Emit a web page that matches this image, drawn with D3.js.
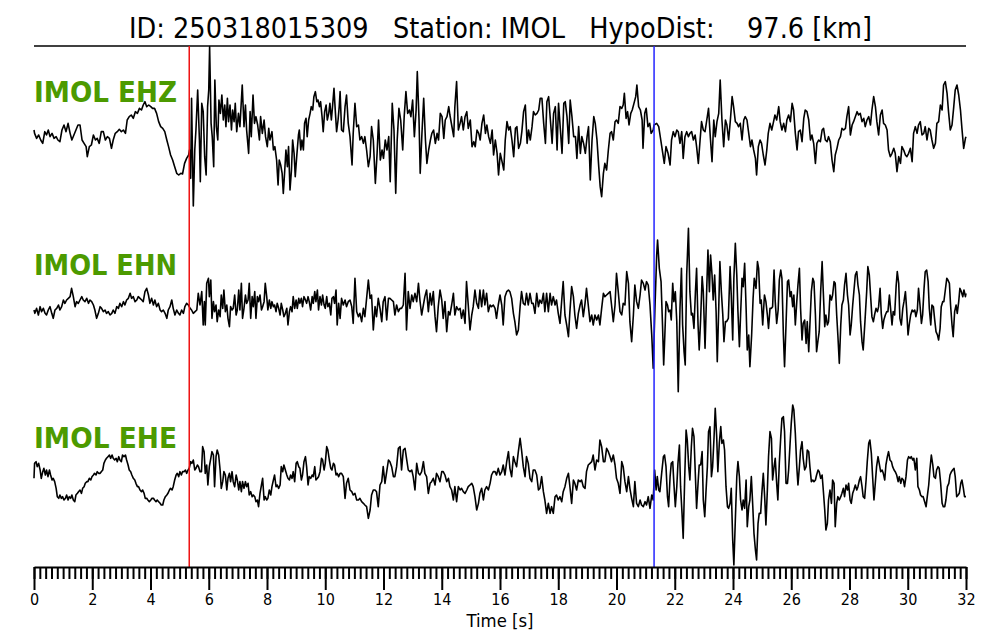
<!DOCTYPE html>
<html>
<head>
<meta charset="utf-8">
<script src="https://cdn.jsdelivr.net/npm/d3@7"></script>
<style>
  html, body { margin: 0; padding: 0; background: #ffffff; }
  svg { display: block; }
</style>
</head>
<body>
<svg id="chart" width="1000" height="640"></svg>
<script>
// ---------------- DATA ----------------
const titleText = "ID: 250318015309   Station: IMOL   HypoDist:    97.6 [km]";
const channels = ["IMOL EHZ", "IMOL EHN", "IMOL EHE"];
const pPick = 5.33;   // s (red)
const sPick = 21.29;  // s (blue)
const majorTicks = [0, 2, 4, 6, 8, 10, 12, 14, 16, 18, 20, 22, 24, 26, 28, 30, 32];
const xLabel = "Time [s]";

// [time (s), amplitude (arb.)]
const ehz = [
[0,0],[0.02,-10],[0.09,-25],[0.16,-15],[0.23,-30],[0.30,-40],[0.37,-5],[0.43,-15],[0.49,0],[0.55,-20],[0.62,-10],[0.69,-25],[0.76,-20],[0.82,-30],[0.89,-35],[0.96,0],[1.03,15],[1.10,-5],[1.17,20],[1.24,-10],[1.30,-30],[1.37,-15],[1.44,0],[1.51,15],[1.58,15],[1.65,-30],[1.72,-40],[1.79,-50],[1.83,-80],[1.90,-50],[1.97,-45],[2.04,-15],[2.11,-30],[2.17,-25],[2.24,-40],[2.31,-5],[2.38,-5],[2.45,-30],[2.52,-20],[2.59,-25],[2.66,-55],[2.72,-30],[2.79,-10],[2.86,-5],[2.93,2],[3.00,-5],[3.07,0],[3.14,-10],[3.20,30],[3.27,40],[3.34,45],[3.41,35],[3.48,55],[3.55,50],[3.62,65],[3.69,60],[3.75,75],[3.81,85],[3.87,70],[3.94,75],[4.01,70],[4.07,65],[4.14,65],[4.21,50],[4.28,25],[4.35,10],[4.42,5],[4.49,-5],[4.56,-30],[4.62,-50],[4.69,-75],[4.76,-90],[4.83,-110],[4.90,-130],[4.97,-135],[5.04,-130],[5.10,-132],[5.17,-100],[5.24,-85],[5.31,-75],
[5.34,-60],[5.38,-145],[5.41,95],[5.47,-228],[5.52,-60],[5.56,0],[5.62,120],[5.68,-30],[5.71,-155],[5.76,80],[5.81,55],[5.86,-80],[5.91,-135],[5.96,70],[6.00,120],[6.03,250],[6.08,20],[6.12,-20],[6.17,-110],[6.21,150],[6.26,10],[6.31,-30],[6.35,90],[6.40,50],[6.45,105],[6.50,30],[6.55,75],[6.59,10],[6.64,95],[6.68,25],[6.73,75],[6.78,0],[6.82,60],[6.87,25],[6.91,80],[6.96,-5],[7.02,50],[7.07,10],[7.15,135],[7.21,10],[7.26,75],[7.30,0],[7.37,-70],[7.42,55],[7.46,-20],[7.52,105],[7.57,20],[7.62,40],[7.68,15],[7.74,-30],[7.78,40],[7.84,-10],[7.90,30],[7.95,-20],[8.01,-50],[8.06,5],[8.10,-30],[8.17,-5],[8.22,-60],[8.27,-50],[8.33,-90],[8.38,-165],[8.42,-90],[8.47,-105],[8.52,-130],[8.56,-190],[8.61,-120],[8.65,-60],[8.70,-110],[8.74,-50],[8.79,-180],[8.84,-120],[8.88,-30],[8.93,-70],[8.97,-140],[9.02,-80],[9.08,-15],[9.11,0],[9.16,-60],[9.20,-30],[9.25,-60],[9.29,20],[9.34,35],[9.38,-20],[9.43,30],[9.48,50],[9.52,70],[9.57,60],[9.61,100],[9.66,115],[9.71,85],[9.75,90],[9.80,70],[9.84,85],[9.89,40],[9.93,-5],[9.98,55],[10.03,75],[10.07,30],[10.12,50],[10.16,80],[10.21,30],[10.25,70],[10.30,125],[10.35,50],[10.39,-5],[10.44,30],[10.48,70],
[10.51,115],[10.56,0],[10.62,-5],[10.68,70],[10.73,105],[10.79,20],[10.85,-20],[10.92,-105],[10.96,-10],[11.02,80],[11.08,10],[11.14,15],[11.19,-30],[11.25,-20],[11.31,-40],[11.36,-20],[11.42,-60],[11.48,-110],[11.54,-80],[11.59,10],[11.65,-30],[11.72,-160],[11.78,-70],[11.83,30],[11.89,-90],[11.95,-60],[12.00,-85],[12.06,-30],[12.12,-60],[12.18,-20],[12.23,-155],[12.30,80],[12.36,0],[12.42,-190],[12.47,-30],[12.53,65],[12.59,30],[12.66,-60],[12.71,40],[12.77,115],[12.83,50],[12.89,60],[12.94,40],[13.00,90],[13.06,-20],[13.12,60],[13.16,175],[13.22,30],[13.26,-130],[13.32,-10],[13.38,95],[13.44,-30],[13.49,-100],[13.55,-60],[13.61,-30],[13.66,-10],[13.72,0],[13.78,-40],[13.84,-10],[13.89,-30],[13.95,50],[14.01,40],[14.07,-25],[14.12,30],[14.18,40],[14.24,70],[14.28,45],[14.34,15],[14.41,-20],[14.45,70],[14.51,145],[14.57,0],[14.63,20],[14.68,40],[14.74,0],[14.80,40],[14.86,55],[14.91,5],[14.98,30],[15.04,-50],[15.10,-35],[15.15,-50],[15.21,0],[15.27,-10],[15.32,-30],[15.38,20],[15.44,45],[15.50,-10],[15.55,15],[15.61,-20],[15.67,-40],[15.73,0],[15.78,-75],[15.84,-30],[15.90,-70],[15.95,-135],[16.01,-70],[16.07,-95],[16.13,-120],[16.18,-30],[16.24,25],[16.30,0],[16.35,10],[16.41,-30],[16.47,-80],[16.53,5],[16.58,10],[16.64,-55],[16.70,-40],[16.75,-5],[16.81,55],[16.87,75],[16.93,-40],[16.98,0],[17.04,-30],[17.10,10],[17.15,55],[17.21,45],[17.27,50],[17.33,60],[17.38,95],[17.44,95],[17.50,20],[17.56,-40],[17.61,85],[17.67,100],[17.73,30],[17.79,-40],[17.84,50],[17.90,70],[17.96,-60],[18.01,80],[18.07,5],[18.13,-70],[18.19,80],[18.24,85],[18.30,40],[18.36,-40],[18.41,90],[18.47,40],[18.53,-20],[18.59,-20],[18.64,-85],[18.70,10],[18.76,-70],[18.81,-20],[18.87,-40],[18.93,-70],[18.99,-20],[19.04,10],[19.10,-150],[19.16,-30],[19.22,40],[19.27,20],[19.33,-30],[19.39,-110],[19.44,-170],[19.49,-200],[19.55,-130],[19.60,-100],[19.66,-120],[19.72,-60],[19.78,-10],[19.83,-5],[19.89,-30],[19.95,25],[20.00,30],[20.06,20],[20.12,70],[20.18,65],[20.23,75],[20.27,110],[20.33,35],[20.38,55],[20.43,15],[20.49,50],[20.54,60],[20.60,80],[20.66,100],[20.70,135],[20.76,70],[20.82,60],[20.88,30],[20.91,-55],[20.97,50],[21.02,65],[21.08,10],[21.14,20],[21.19,-10],[21.26,0],
[21.29,15],[21.38,20],[21.45,10],[21.52,-30],[21.58,-65],[21.64,-100],[21.70,-50],[21.77,-70],[21.84,-105],[21.89,-30],[21.95,-5],[22.01,-20],[22.07,0],[22.12,-5],[22.18,-40],[22.24,-5],[22.29,-85],[22.35,-20],[22.41,-5],[22.47,-20],[22.52,-10],[22.58,-5],[22.64,-30],[22.70,-15],[22.75,-50],[22.81,-100],[22.87,-30],[22.92,25],[22.98,0],[23.04,-5],[23.10,30],[23.16,65],[23.22,-20],[23.28,-95],[23.34,30],[23.39,-20],[23.45,25],[23.51,50],[23.56,150],[23.62,30],[23.68,-50],[23.74,30],[23.79,15],[23.85,-30],[23.91,30],[23.97,100],[24.02,70],[24.08,25],[24.14,20],[24.19,10],[24.25,20],[24.31,-30],[24.37,30],[24.42,40],[24.48,30],[24.54,-10],[24.60,-50],[24.65,-30],[24.71,-60],[24.77,-85],[24.81,-135],[24.87,-50],[24.93,-30],[24.98,-40],[25.04,-75],[25.10,-105],[25.16,-60],[25.21,-10],[25.27,20],[25.33,0],[25.38,20],[25.44,45],[25.50,30],[25.57,70],[25.62,25],[25.68,0],[25.74,20],[25.80,-5],[25.85,30],[25.91,45],[25.97,25],[26.03,80],[26.08,60],[26.14,-10],[26.20,-60],[26.25,-5],[26.31,0],[26.37,-35],[26.43,35],[26.48,60],[26.54,55],[26.60,30],[26.66,-30],[26.71,-15],[26.77,-40],[26.83,-100],[26.88,-40],[26.94,-30],[27.00,-35],[27.06,0],[27.11,5],[27.17,-30],[27.23,-35],[27.28,-20],[27.34,-35],[27.40,-90],[27.46,-125],[27.51,-75],[27.57,-55],[27.63,-30],[27.69,-20],[27.74,5],[27.80,0],[27.86,5],[27.91,40],[27.97,70],[28.03,-15],[28.09,15],[28.14,25],[28.20,40],[28.26,55],[28.31,45],[28.37,50],[28.43,25],[28.49,35],[28.54,10],[28.60,30],[28.66,40],[28.72,15],[28.77,60],[28.83,100],[28.89,70],[28.94,25],[29.00,-15],[29.06,45],[29.12,60],[29.17,20],[29.23,15],[29.29,0],[29.34,-60],[29.40,-80],[29.46,-70],[29.52,-55],[29.57,-70],[29.63,-125],[29.69,-80],[29.75,-100],[29.80,-50],[29.86,-60],[29.92,-75],[29.97,-80],[30.03,-70],[30.09,-55],[30.15,-95],[30.20,-10],[30.26,10],[30.32,-10],[30.37,15],[30.43,25],[30.49,-15],[30.55,-10],[30.60,10],[30.66,-30],[30.72,5],[30.77,0],[30.83,-30],[30.89,-55],[30.95,-40],[31.00,20],[31.06,25],[31.12,75],[31.18,60],[31.23,135],[31.29,145],[31.35,110],[31.40,55],[31.46,0],[31.52,15],[31.58,70],[31.63,120],[31.69,135],[31.75,105],[31.81,60],[31.86,5],[31.92,-55],[31.98,-25],[32.00,-20]
];

const ehn = [
[0,-6],[0.03,-16],[0.09,-1],[0.15,-21],[0.21,4],[0.26,-11],[0.32,-1],[0.38,-16],[0.43,-21],[0.49,-6],[0.55,4],[0.61,-16],[0.66,-31],[0.72,-6],[0.78,-1],[0.84,9],[0.89,-6],[0.95,4],[1.01,24],[1.06,14],[1.12,24],[1.18,29],[1.24,34],[1.29,59],[1.35,34],[1.41,4],[1.46,19],[1.52,14],[1.58,24],[1.64,34],[1.69,24],[1.75,19],[1.81,29],[1.87,14],[1.92,24],[1.98,19],[2.04,9],[2.09,-6],[2.15,-31],[2.21,-16],[2.27,4],[2.32,-1],[2.38,-11],[2.44,-6],[2.49,-16],[2.55,-11],[2.61,-21],[2.67,-16],[2.72,-6],[2.78,-16],[2.84,4],[2.90,-1],[2.95,14],[3.01,4],[3.07,19],[3.12,9],[3.18,24],[3.24,29],[3.30,44],[3.35,29],[3.41,34],[3.47,19],[3.53,24],[3.58,34],[3.64,29],[3.70,24],[3.75,19],[3.81,49],[3.87,59],[3.93,39],[3.98,14],[4.04,29],[4.10,9],[4.15,24],[4.21,4],[4.27,14],[4.33,-6],[4.38,-11],[4.44,-6],[4.50,-16],[4.56,-31],[4.61,-6],[4.67,4],[4.73,24],[4.78,-1],[4.84,-21],[4.90,-6],[4.96,-16],[5.01,-21],[5.07,-6],[5.13,-16],[5.18,4],[5.24,14],[5.30,9],
[5.36,-1],[5.41,-6],[5.47,-16],[5.53,-11],[5.59,-6],[5.64,44],[5.70,9],[5.76,49],[5.81,-51],[5.85,19],[5.88,-51],[5.93,74],[5.99,89],[6.02,34],[6.07,84],[6.11,-31],[6.16,19],[6.20,-11],[6.25,9],[6.29,-41],[6.34,-6],[6.39,-26],[6.43,39],[6.48,-1],[6.52,54],[6.57,-11],[6.62,9],[6.66,-31],[6.71,-56],[6.75,4],[6.80,-6],[6.84,-1],[6.89,39],[6.94,-21],[6.98,-6],[7.03,54],[7.07,-6],[7.12,74],[7.16,-31],[7.21,-1],[7.26,39],[7.30,14],[7.35,24],[7.39,74],[7.44,-31],[7.49,34],[7.53,4],[7.58,49],[7.62,-31],[7.67,34],[7.71,19],[7.76,39],[7.81,-6],[7.85,4],[7.90,19],[7.94,74],[7.99,34],[8.03,-6],[8.08,24],[8.13,-1],[8.17,19],[8.22,4],[8.26,9],[8.31,-11],[8.35,14],[8.40,-1],[8.45,-21],[8.49,14],[8.54,-6],[8.58,-26],[8.63,-16],[8.68,-1],[8.72,-51],[8.77,-11],[8.81,4],[8.86,-11],[8.90,34],[8.95,-1],[9.00,24],[9.04,-1],[9.09,29],[9.13,14],[9.18,29],[9.22,4],[9.27,34],[9.32,24],[9.36,14],[9.41,34],[9.45,19],[9.50,-6],[9.55,34],[9.59,14],[9.64,49],[9.68,19],[9.73,54],[9.77,-6],[9.82,34],[9.87,9],[9.91,39],[9.96,9],[10.00,-1],[10.05,34],[10.09,4],[10.14,14],[10.19,-21],[10.23,29],[10.28,34],[10.32,14],[10.37,54],[10.41,-51],[10.46,14],
[10.51,-31],[10.56,29],[10.62,9],[10.68,24],[10.73,4],[10.79,19],[10.85,24],[10.91,4],[10.96,-46],[11.02,89],[11.08,-11],[11.14,-26],[11.19,-16],[11.25,-41],[11.31,-1],[11.36,-26],[11.42,29],[11.48,84],[11.54,29],[11.59,39],[11.65,-66],[11.71,4],[11.76,-26],[11.82,29],[11.88,-1],[11.94,-41],[11.99,19],[12.05,34],[12.11,-36],[12.17,29],[12.22,29],[12.28,24],[12.34,19],[12.39,-21],[12.45,9],[12.51,-11],[12.57,-1],[12.62,-1],[12.68,9],[12.74,104],[12.79,-66],[12.85,49],[12.91,-1],[12.97,39],[13.02,19],[13.08,44],[13.14,19],[13.20,74],[13.25,24],[13.31,-21],[13.37,9],[13.42,34],[13.48,54],[13.54,-11],[13.60,44],[13.65,9],[13.71,49],[13.77,-26],[13.82,-71],[13.88,4],[13.94,54],[14.00,24],[14.05,-31],[14.11,19],[14.17,-71],[14.23,-11],[14.28,-21],[14.34,9],[14.40,44],[14.45,-21],[14.51,4],[14.57,-6],[14.63,-1],[14.68,-31],[14.74,-6],[14.80,-46],[14.85,79],[14.91,9],[14.97,-66],[15.03,-21],[15.08,4],[15.14,54],[15.20,14],[15.26,-1],[15.31,54],[15.37,4],[15.43,54],[15.48,9],[15.54,44],[15.60,-11],[15.66,9],[15.71,4],[15.77,9],[15.83,-1],[15.88,-31],[15.94,9],[16.00,39],[16.06,9],[16.11,-51],[16.17,34],[16.23,49],[16.29,54],[16.34,49],[16.40,29],[16.46,-16],[16.51,-41],[16.57,-81],[16.63,-66],[16.69,4],[16.74,49],[16.80,14],[16.86,9],[16.91,44],[16.97,9],[17.03,44],[17.09,14],[17.14,14],[17.20,-16],[17.26,44],[17.32,4],[17.37,24],[17.43,14],[17.49,44],[17.54,-11],[17.60,44],[17.66,-11],[17.72,44],[17.77,9],[17.83,34],[17.89,9],[17.94,24],[18.00,-16],[18.06,-46],[18.12,24],[18.17,79],[18.23,-21],[18.29,-51],[18.35,-86],[18.40,-11],[18.46,64],[18.52,34],[18.57,-21],[18.63,-61],[18.69,-16],[18.75,9],[18.80,24],[18.86,-26],[18.92,14],[18.97,59],[19.03,9],[19.09,-41],[19.15,-21],[19.20,-51],[19.26,-21],[19.32,-36],[19.38,-21],[19.43,-51],[19.49,-1],[19.55,44],[19.60,34],[19.66,39],[19.72,44],[19.78,49],[19.83,9],[19.89,-41],[19.95,9],[20.00,104],[20.06,49],[20.12,-11],[20.18,-21],[20.23,14],[20.29,9],[20.35,109],[20.41,74],[20.46,-41],[20.52,-101],[20.58,-21],[20.63,69],[20.69,19],[20.75,-1],[20.81,39],[20.86,84],[20.92,74],[20.98,54],[21.03,79],[21.09,69],[21.15,9],[21.21,-81],[21.26,-181],
[21.32,-1],[21.38,159],[21.41,204],[21.47,119],[21.53,79],[21.58,-51],[21.62,-171],[21.66,-81],[21.70,19],[21.75,9],[21.79,-11],[21.84,-6],[21.88,-36],[21.93,74],[21.97,19],[22.02,49],[22.07,-41],[22.12,-251],[22.18,-1],[22.23,119],[22.27,-51],[22.32,-131],[22.36,-171],[22.41,99],[22.47,239],[22.52,49],[22.57,-21],[22.61,-16],[22.66,-61],[22.71,49],[22.75,119],[22.80,-51],[22.84,-126],[22.89,-31],[22.94,94],[22.98,49],[23.04,-121],[23.10,64],[23.14,174],[23.19,49],[23.23,159],[23.28,99],[23.32,24],[23.37,99],[23.42,-11],[23.46,-161],[23.51,-1],[23.55,139],[23.60,49],[23.65,-21],[23.69,-101],[23.74,-41],[23.78,-41],[23.84,-31],[23.90,124],[23.94,39],[23.99,-96],[24.03,89],[24.08,194],[24.13,99],[24.17,-11],[24.22,-116],[24.26,-21],[24.31,89],[24.35,64],[24.40,134],[24.45,-1],[24.49,-126],[24.54,-81],[24.58,-176],[24.64,-81],[24.69,29],[24.73,89],[24.79,59],[24.84,139],[24.88,119],[24.93,14],[24.97,24],[25.02,-51],[25.08,39],[25.13,19],[25.18,-21],[25.22,-61],[25.27,-1],[25.32,-1],[25.36,4],[25.41,114],[25.45,19],[25.50,-46],[25.55,-6],[25.59,84],[25.64,114],[25.68,89],[25.73,-81],[25.77,-176],[25.82,-51],[25.87,79],[25.91,84],[25.96,34],[26.00,49],[26.05,4],[26.09,39],[26.14,-51],[26.19,19],[26.23,69],[26.28,119],[26.32,-1],[26.37,-96],[26.41,-46],[26.46,-36],[26.51,-106],[26.55,-41],[26.60,-131],[26.64,-51],[26.69,49],[26.74,89],[26.78,79],[26.83,-21],[26.87,-131],[26.92,-96],[26.96,-71],[27.01,49],[27.06,139],[27.10,49],[27.15,-56],[27.19,-21],[27.24,-51],[27.28,-41],[27.33,39],[27.38,24],[27.42,39],[27.47,79],[27.51,74],[27.56,-21],[27.60,-81],[27.65,-166],[27.70,-51],[27.74,9],[27.79,24],[27.83,69],[27.88,104],[27.93,39],[27.97,9],[28.02,-81],[28.06,-51],[28.11,9],[28.15,49],[28.20,99],[28.25,109],[28.29,69],[28.34,39],[28.38,-41],[28.43,-101],[28.47,-126],[28.53,-41],[28.59,49],[28.63,124],[28.68,99],[28.73,29],[28.77,-26],[28.82,-41],[28.86,-21],[28.91,-1],[28.96,-11],[29.00,4],[29.05,59],[29.09,-16],[29.14,-61],[29.18,-36],[29.23,-21],[29.28,-11],[29.32,-11],[29.37,39],[29.41,-1],[29.46,-51],[29.50,-11],[29.55,-21],[29.60,64],[29.64,109],[29.69,74],[29.73,-31],[29.78,-51],[29.83,-1],[29.87,19],[29.92,49],[29.96,-1],[30.01,-81],[30.05,-51],[30.10,-21],[30.15,-6],[30.19,-11],[30.24,-6],[30.28,-26],[30.33,-6],[30.37,59],[30.42,9],[30.47,-46],[30.51,-21],[30.56,59],[30.60,109],[30.65,114],[30.70,79],[30.74,-1],[30.79,-51],[30.83,9],[30.88,4],[30.92,-31],[30.97,-71],[31.02,-81],[31.06,-96],[31.11,-61],[31.15,4],[31.20,19],[31.24,19],[31.29,54],[31.34,89],[31.38,84],[31.43,74],[31.47,9],[31.52,-51],[31.56,-86],[31.61,-11],[31.66,9],[31.70,-16],[31.75,19],[31.79,59],[31.84,49],[31.89,34],[31.93,54],[31.98,34],[32.00,44]
];

const ehe = [
[0,5],[0.02,50],[0.07,55],[0.11,40],[0.16,50],[0.21,30],[0.25,5],[0.30,25],[0.34,35],[0.39,15],[0.43,30],[0.48,10],[0.53,30],[0.57,15],[0.62,0],[0.66,5],[0.71,-5],[0.76,-25],[0.80,-50],[0.85,-55],[0.89,-45],[0.94,-55],[0.98,-50],[1.03,-60],[1.08,-55],[1.12,-45],[1.17,-60],[1.21,-50],[1.26,-55],[1.30,-45],[1.35,-60],[1.40,-65],[1.44,-45],[1.49,-40],[1.53,-35],[1.58,-30],[1.63,-40],[1.67,-25],[1.72,-20],[1.76,-10],[1.81,-5],[1.85,-5],[1.90,5],[1.95,0],[1.99,10],[2.04,15],[2.08,20],[2.13,15],[2.17,25],[2.22,20],[2.27,20],[2.31,25],[2.36,30],[2.40,50],[2.45,60],[2.49,65],[2.54,70],[2.59,75],[2.63,65],[2.68,75],[2.72,65],[2.77,60],[2.82,65],[2.86,55],[2.91,70],[2.95,60],[3.00,55],[3.04,75],[3.09,70],[3.14,75],[3.18,60],[3.23,45],[3.27,30],[3.32,25],[3.36,15],[3.41,5],[3.46,0],[3.50,-10],[3.55,-20],[3.59,-20],[3.64,-30],[3.69,-35],[3.73,-30],[3.78,-40],[3.82,-55],[3.87,-55],[3.91,-60],[3.96,-65],[4.01,-60],[4.05,-55],[4.10,-55],[4.14,-60],[4.19,-65],[4.23,-60],[4.28,-65],[4.33,-70],[4.37,-75],[4.42,-75],[4.46,-60],[4.51,-50],[4.56,-45],[4.60,-40],[4.65,-30],[4.69,-25],[4.74,-30],[4.78,-20],[4.83,0],[4.88,15],[4.92,20],[4.97,10],[5.01,25],[5.06,15],[5.10,25],[5.15,25],[5.20,30],[5.24,20],[5.29,30],[5.33,35],
[5.38,55],[5.42,50],[5.47,60],[5.52,30],[5.56,35],[5.61,45],[5.65,40],[5.70,25],[5.75,25],[5.79,100],[5.84,85],[5.88,20],[5.93,45],[5.97,-15],[6.02,40],[6.07,65],[6.11,85],[6.16,75],[6.20,-20],[6.25,70],[6.29,90],[6.34,75],[6.39,30],[6.43,-25],[6.48,-5],[6.52,25],[6.57,15],[6.62,-30],[6.66,5],[6.71,20],[6.75,-5],[6.80,25],[6.84,-5],[6.89,-20],[6.94,15],[6.98,0],[7.03,-30],[7.07,-5],[7.12,-35],[7.16,-5],[7.21,-25],[7.26,-5],[7.30,-20],[7.35,-10],[7.39,-45],[7.44,-35],[7.49,-50],[7.53,-45],[7.58,-50],[7.62,-65],[7.67,-60],[7.71,-80],[7.76,-40],[7.81,-15],[7.85,5],[7.90,-60],[7.94,-50],[7.99,-60],[8.03,-55],[8.08,-30],[8.13,-45],[8.17,-20],[8.22,0],[8.26,15],[8.31,-20],[8.35,-15],[8.40,-25],[8.45,-15],[8.49,40],[8.54,25],[8.58,45],[8.63,30],[8.68,15],[8.72,5],[8.77,0],[8.81,15],[8.86,5],[8.90,25],[8.95,-5],[9.00,50],[9.04,55],[9.09,40],[9.13,35],[9.18,0],[9.22,15],[9.27,55],[9.32,70],[9.36,40],[9.41,-15],[9.45,10],[9.50,5],[9.55,15],[9.59,10],[9.64,40],[9.68,0],[9.73,5],[9.77,10],[9.82,25],[9.87,65],[9.91,60],[9.96,30],[10.00,50],[10.05,100],[10.09,90],[10.14,60],[10.19,35],[10.23,30],[10.28,50],[10.32,45],[10.37,15],[10.41,20],[10.46,10],
[10.51,20],[10.56,20],[10.62,10],[10.68,-55],[10.73,-10],[10.79,5],[10.85,-30],[10.91,-35],[10.96,-45],[11.02,-40],[11.08,-60],[11.14,-60],[11.19,-55],[11.25,-65],[11.31,-70],[11.36,-75],[11.42,-80],[11.48,-115],[11.54,-90],[11.59,-45],[11.65,-30],[11.71,-30],[11.76,-35],[11.82,-80],[11.88,-15],[11.94,-5],[11.99,40],[12.05,-10],[12.11,25],[12.17,60],[12.22,55],[12.28,40],[12.34,10],[12.39,10],[12.45,40],[12.51,95],[12.57,100],[12.62,30],[12.68,90],[12.74,95],[12.79,65],[12.85,30],[12.91,25],[12.97,30],[13.02,10],[13.08,-30],[13.14,50],[13.20,20],[13.25,15],[13.31,25],[13.37,55],[13.42,20],[13.48,10],[13.54,-40],[13.60,-10],[13.65,-5],[13.71,5],[13.77,-15],[13.82,20],[13.88,10],[13.94,-5],[14.00,25],[14.05,25],[14.11,15],[14.17,-5],[14.23,5],[14.28,-20],[14.34,-30],[14.40,-60],[14.45,-20],[14.51,-65],[14.57,-20],[14.63,-30],[14.68,-25],[14.74,-35],[14.80,-40],[14.86,-30],[14.91,-20],[14.97,-15],[15.03,-10],[15.08,-20],[15.14,-50],[15.20,-90],[15.26,-70],[15.31,-40],[15.37,-25],[15.43,-60],[15.48,-30],[15.54,-20],[15.60,-30],[15.66,-10],[15.71,15],[15.77,25],[15.83,25],[15.88,15],[15.94,35],[16.00,15],[16.06,25],[16.11,45],[16.17,15],[16.23,55],[16.29,85],[16.34,35],[16.40,10],[16.46,70],[16.51,55],[16.57,40],[16.63,85],[16.69,125],[16.74,90],[16.80,40],[16.86,10],[16.91,70],[16.97,50],[17.03,5],[17.09,-5],[17.14,30],[17.20,30],[17.26,15],[17.32,-30],[17.37,-25],[17.43,10],[17.49,-35],[17.54,-60],[17.60,-100],[17.66,-70],[17.72,-100],[17.77,-80],[17.83,-100],[17.89,-50],[17.94,-45],[18.00,-60],[18.06,-50],[18.12,-65],[18.17,-35],[18.23,-20],[18.29,5],[18.35,20],[18.40,-20],[18.46,-70],[18.52,0],[18.57,-10],[18.63,-30],[18.69,0],[18.75,-5],[18.80,0],[18.86,-20],[18.92,-25],[18.97,25],[19.03,45],[19.09,50],[19.15,55],[19.20,75],[19.26,30],[19.32,60],[19.38,55],[19.43,120],[19.49,100],[19.55,55],[19.60,55],[19.66,95],[19.72,85],[19.78,70],[19.83,55],[19.89,75],[19.95,45],[20.00,5],[20.06,-10],[20.12,-40],[20.18,55],[20.23,40],[20.29,-5],[20.35,-35],[20.41,10],[20.46,-25],[20.52,-55],[20.58,-80],[20.63,-5],[20.69,-70],[20.75,-80],[20.81,-60],[20.86,-75],[20.92,-80],[20.98,-65],[21.03,-75],[21.09,-50],[21.15,-85],[21.21,-45],[21.26,-60],
[21.31,30],[21.36,-30],[21.40,10],[21.45,-30],[21.49,-35],[21.55,20],[21.61,70],[21.65,75],[21.70,40],[21.75,-50],[21.79,-80],[21.84,10],[21.88,50],[21.93,55],[21.97,-10],[22.02,-80],[22.07,-20],[22.11,50],[22.16,105],[22.20,-20],[22.25,-100],[22.29,-175],[22.34,0],[22.39,150],[22.43,120],[22.48,40],[22.52,0],[22.57,100],[22.61,155],[22.66,130],[22.71,10],[22.75,-85],[22.80,-10],[22.84,45],[22.89,45],[22.94,85],[22.98,-60],[23.03,-110],[23.07,-40],[23.12,40],[23.16,145],[23.21,160],[23.26,10],[23.30,40],[23.35,130],[23.39,215],[23.44,130],[23.48,25],[23.53,110],[23.58,160],[23.62,110],[23.67,120],[23.71,90],[23.76,-20],[23.81,-80],[23.85,-85],[23.90,-70],[23.94,-25],[23.99,-180],[24.03,-255],[24.08,-120],[24.13,10],[24.17,55],[24.22,10],[24.26,-60],[24.31,-90],[24.35,-60],[24.40,-85],[24.45,0],[24.49,-140],[24.54,-80],[24.58,-60],[24.63,10],[24.68,-80],[24.72,-160],[24.77,-210],[24.81,-240],[24.86,-130],[24.90,-100],[24.95,-100],[24.99,-40],[25.04,20],[25.09,-55],[25.13,-135],[25.18,-30],[25.22,70],[25.27,145],[25.32,125],[25.36,0],[25.41,40],[25.45,65],[25.50,-10],[25.54,-60],[25.59,50],[25.64,130],[25.68,185],[25.73,190],[25.77,145],[25.82,-10],[25.87,-10],[25.91,30],[25.96,110],[26.00,170],[26.05,225],[26.09,210],[26.14,140],[26.19,40],[26.23,-15],[26.28,40],[26.32,90],[26.37,115],[26.41,65],[26.46,30],[26.51,40],[26.55,90],[26.60,85],[26.64,40],[26.69,-5],[26.74,0],[26.78,-5],[26.83,0],[26.87,15],[26.92,30],[26.96,25],[27.01,5],[27.06,15],[27.10,-30],[27.15,-90],[27.19,-150],[27.24,-130],[27.28,-60],[27.33,-30],[27.38,-70],[27.42,0],[27.47,-10],[27.51,-140],[27.56,-70],[27.60,-50],[27.65,-60],[27.70,-50],[27.74,-40],[27.79,-25],[27.83,-50],[27.88,-15],[27.93,-30],[27.97,-10],[28.02,-60],[28.06,-70],[28.11,-40],[28.15,-30],[28.20,-15],[28.25,-30],[28.29,-20],[28.34,0],[28.38,10],[28.43,-20],[28.47,-50],[28.52,-55],[28.57,0],[28.61,55],[28.66,110],[28.70,120],[28.75,80],[28.80,0],[28.84,-60],[28.89,-5],[28.93,40],[28.98,70],[29.02,50],[29.07,25],[29.12,30],[29.16,20],[29.21,0],[29.25,45],[29.30,70],[29.34,85],[29.39,60],[29.44,55],[29.48,40],[29.53,30],[29.57,25],[29.62,15],[29.67,-5],[29.71,10],[29.76,-10],[29.80,5],[29.85,0],[29.89,-20],[29.94,10],[29.99,60],[30.03,70],[30.08,65],[30.12,70],[30.17,60],[30.21,65],[30.26,30],[30.31,65],[30.35,-20],[30.40,-30],[30.44,-45],[30.49,-50],[30.53,-50],[30.58,-65],[30.63,-80],[30.67,-50],[30.72,-15],[30.76,30],[30.81,75],[30.86,45],[30.90,10],[30.95,5],[30.99,30],[31.04,40],[31.08,35],[31.13,-10],[31.18,-70],[31.22,-80],[31.27,-80],[31.31,-60],[31.36,-20],[31.41,-10],[31.45,15],[31.50,25],[31.54,30],[31.59,35],[31.63,10],[31.68,-50],[31.73,-45],[31.77,-40],[31.82,-10],[31.86,0],[31.91,-25],[31.95,-50],[32.00,-50]
];

const traces = [ehz, ehn, ehe];
const traceCenters = [130, 308, 480];      // vertical baseline of each trace (px)
const labelBaselines = [102, 275, 448];

// ---------------- DRAW ----------------
(function () {
const svg = d3.select("#chart");
const W = 1000, H = 640;
const xL = 34, xR = 966, yTop = 46, axisY = 567;

svg.append("rect").attr("width", W).attr("height", H).attr("fill", "#ffffff");

const x = d3.scaleLinear().domain([0, 32]).range([xL, xR]);

// Title
svg.append("text")
  .attr("x", 129).attr("y", 38)
  .attr("font-family", "'DejaVu Sans Condensed', 'DejaVu Sans', sans-serif")
  .attr("font-stretch", "condensed")
  .attr("font-size", 28)
  .attr("fill", "#000")
  .attr("textLength", 743)
  .attr("lengthAdjust", "spacingAndGlyphs")
  .style("white-space", "pre")
  .text(titleText);

// top line
svg.append("line")
  .attr("x1", xL).attr("x2", xR)
  .attr("y1", yTop).attr("y2", yTop)
  .attr("stroke", "#000").attr("stroke-width", 1.5);

// traces
const lineGen = (yScale) => d3.line()
  .x(d => x(d[0]))
  .y(d => yScale(d[1]));

traces.forEach((data, i) => {
  const c = traceCenters[i];
  const y = d3.scaleLinear().domain([-300, 300]).range([c + 100, c - 100]);
  svg.append("path")
    .datum(data)
    .attr("d", lineGen(y))
    .attr("fill", "none")
    .attr("stroke", "#000")
    .attr("stroke-width", 1.6)
    .attr("stroke-linejoin", "round");
});

// picks
svg.append("line")
  .attr("x1", x(pPick)).attr("x2", x(pPick))
  .attr("y1", yTop).attr("y2", axisY)
  .attr("stroke", "#ee1111").attr("stroke-width", 1.5);
svg.append("line")
  .attr("x1", x(sPick)).attr("x2", x(sPick))
  .attr("y1", yTop).attr("y2", axisY)
  .attr("stroke", "#2424ff").attr("stroke-width", 1.5);

// channel labels
channels.forEach((name, i) => {
  svg.append("text")
    .attr("x", 34).attr("y", labelBaselines[i])
    .attr("font-family", "'DejaVu Sans Condensed', 'DejaVu Sans', sans-serif")
    .attr("font-stretch", "condensed")
    .attr("font-weight", "bold")
    .attr("font-size", 29)
    .attr("fill", "#4c9a00")
    .attr("textLength", 143)
    .attr("lengthAdjust", "spacingAndGlyphs")
    .text(name);
});

// axis: minor ticks
const minorTicks = d3.range(0, 160.5, 1).map(v => +(v * 0.2).toFixed(1));
const gMinor = svg.append("g")
  .attr("transform", `translate(0,${axisY})`)
  .call(d3.axisBottom(x).tickValues(minorTicks).tickSize(12).tickSizeOuter(0).tickFormat(""));
gMinor.selectAll(".tick line").attr("stroke", "#000").attr("stroke-width", 2);
gMinor.select(".domain").attr("stroke", "#000").attr("stroke-width", 2);

// axis: major ticks
const gMajor = svg.append("g")
  .attr("transform", `translate(0,${axisY})`)
  .call(d3.axisBottom(x).tickValues(majorTicks).tickSize(23).tickSizeOuter(0).tickPadding(4).tickFormat(d3.format("d")));
gMajor.select(".domain").remove();
gMajor.selectAll(".tick line").attr("stroke", "#000").attr("stroke-width", 2);
gMajor.selectAll(".tick text")
  .attr("font-family", "'DejaVu Sans Condensed', 'DejaVu Sans', sans-serif")
  .attr("font-stretch", "condensed")
  .attr("font-size", 16)
  .attr("fill", "#000");

// x label
svg.append("text")
  .attr("x", (xL + xR) / 2).attr("y", 627)
  .attr("text-anchor", "middle")
  .attr("font-family", "'DejaVu Sans Condensed', 'DejaVu Sans', sans-serif")
  .attr("font-stretch", "condensed")
  .attr("font-size", 17)
  .attr("fill", "#000")
  .attr("textLength", 67)
  .attr("lengthAdjust", "spacingAndGlyphs")
  .text(xLabel);
})();
</script>
